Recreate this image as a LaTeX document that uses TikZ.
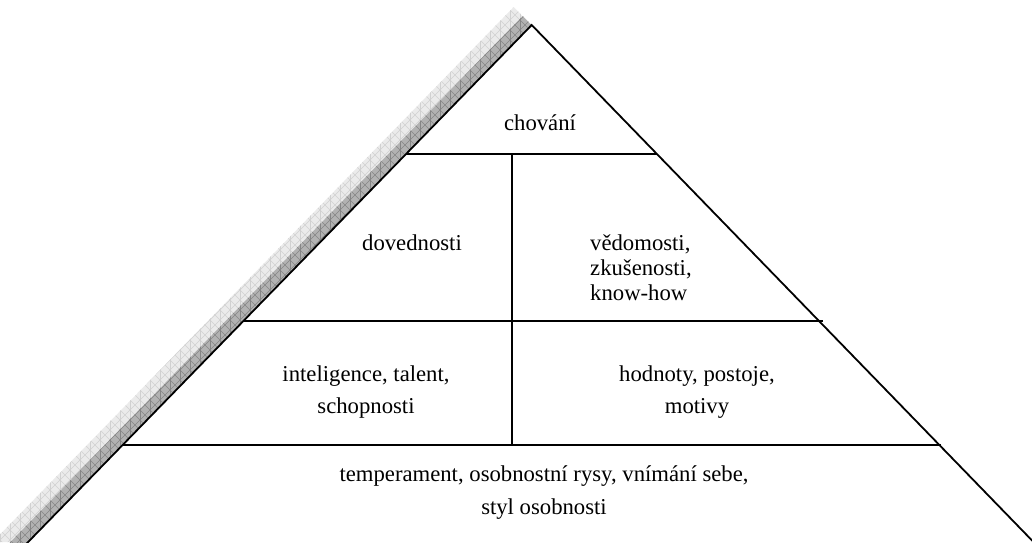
\documentclass[tikz,border=0pt]{standalone}
\usepackage{fontspec}
\setmainfont{Liberation Serif}
\usetikzlibrary{calc}
\definecolor{shdark}{gray}{0.70}
\definecolor{shdarkline}{gray}{0.52}
\definecolor{shlight}{gray}{0.92}
\definecolor{shlightline}{gray}{0.82}
\begin{document}
\begin{tikzpicture}[x=1pt,y=-1pt,
  edgeline/.style={line width=1.8pt},
  sepline/.style={line width=1.6pt},
  hatchline/.style={line width=0.6pt},
  lbl/.style={font=\fontsize{22.7}{25}\selectfont, align=center, inner sep=0pt}]
\useasboundingbox (0,0) rectangle (1032,542);
\clip (0,0) rectangle (1032,542);
\coordinate (apex) at (531.7,25);
\coordinate (bl) at (10.6,560);
\coordinate (br) at (1051,560);
% light shadow band
\begin{scope}
  \clip ([shift={(-18,-18)}]apex) -- ([shift={(-18,-18)}]bl) -- ([shift={(-18,-18)}]br) -- cycle;
  \fill[shlight] (-20,-20) rectangle (560,580);
  \draw[hatchline, shlightline, step=10] (-20,-20) grid (560,580);
  \foreach \c in {-20,-10,...,1140} {
    \draw[hatchline, shlightline] (\c,-20) -- ({\c-600},580);
  }
  \foreach \c in {-600,-590,...,560} {
    \draw[hatchline, shlightline] (\c,-20) -- ({\c+600},580);
  }
\end{scope}
% dark shadow band
\begin{scope}
  \clip ([shift={(-9,-9)}]apex) -- ([shift={(-9,-9)}]bl) -- ([shift={(-9,-9)}]br) -- cycle;
  \fill[shdark] (-20,-20) rectangle (560,580);
  \draw[hatchline, shdarkline, step=10] (-20,-20) grid (560,580);
  \foreach \c in {-20,-10,...,1140} {
    \draw[hatchline, shdarkline] (\c,-20) -- ({\c-600},580);
  }
  \foreach \c in {-600,-590,...,560} {
    \draw[hatchline, shdarkline] (\c,-20) -- ({\c+600},580);
  }
\end{scope}
% main pyramid
\fill[white] (apex) -- (bl) -- (br) -- cycle;
\draw[edgeline] (bl) -- (apex) -- (br);
% separators
\coordinate (l1) at ($(apex)!0.2411!(bl)$);
\coordinate (r1) at ($(apex)!0.2411!(br)$);
\coordinate (l2) at ($(apex)!0.5533!(bl)$);
\coordinate (r2) at ($(apex)!0.5533!(br)+(4,0)$);
\coordinate (l3) at ($(apex)!0.785!(bl)$);
\coordinate (r3) at ($(apex)!0.785!(br)+(2,0)$);
\coordinate (vx) at (512,0);
\coordinate (vt) at (vx |- l1);
\coordinate (vb) at (vx |- l3);
\draw[sepline] (l1) -- (r1);
\draw[sepline] (l2) -- (r2);
\draw[sepline] (l3) -- (r3);
\draw[sepline] (vt) -- (vb);
% labels
\node[lbl] (chovani) at (540,123) {chování};
\node[lbl] (dovednosti) at (412,243) {dovednosti};
\node[lbl, align=left, anchor=west] (vedomosti) at (590,268) {vědomosti,\\zkušenosti,\\know-how};
\node[lbl] (inteligence) at (366,392) {inteligence, talent,\\[7pt]schopnosti};
\node[lbl] (hodnoty) at (697,392) {hodnoty, postoje,\\[7pt]motivy};
\node[lbl] (temperament) at (544,493) {temperament, osobnostní rysy, vnímání sebe,\\[8pt]styl osobnosti};
\end{tikzpicture}
\end{document}
